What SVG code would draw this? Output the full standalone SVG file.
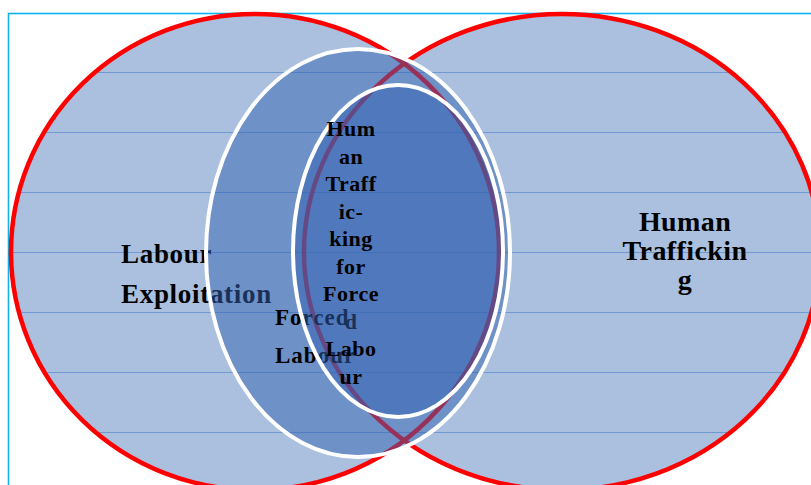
<svg xmlns="http://www.w3.org/2000/svg" width="811" height="485" viewBox="0 0 811 485">
  <style>
    .lbl { font-family: "Liberation Serif", "Times New Roman", serif; font-weight: bold; fill: #000; }
    .red { fill: none; stroke: #ff0000; stroke-width: 4.5; }
    .wht { fill: #3262b2; fill-opacity: 0.5; stroke: #ffffff; stroke-width: 4; }
    .grid { stroke: #7099d3; stroke-width: 1; }
  </style>
  <defs>
    <clipPath id="vennClip">
      <ellipse cx="255" cy="252" rx="244" ry="238"/>
      <ellipse cx="562" cy="252" rx="258" ry="238"/>
    </clipPath>
  </defs>
  <rect x="0" y="0" width="811" height="485" fill="#ffffff"/>
  <rect x="8.5" y="13.5" width="830" height="500" fill="none" stroke="#10b2ec" stroke-width="1.6"/>

  <g id="venn-fills">
    <ellipse cx="255" cy="252" rx="244" ry="238" fill="#aac0de"/>
    <ellipse cx="562" cy="252" rx="258" ry="238" fill="#aac0de"/>
    <g clip-path="url(#vennClip)" class="grid">
      <line x1="0" y1="72.5" x2="811" y2="72.5"/>
      <line x1="0" y1="132.5" x2="811" y2="132.5"/>
      <line x1="0" y1="192.5" x2="811" y2="192.5"/>
      <line x1="0" y1="252.5" x2="811" y2="252.5"/>
      <line x1="0" y1="312.5" x2="811" y2="312.5"/>
      <line x1="0" y1="372.5" x2="811" y2="372.5"/>
      <line x1="0" y1="432.5" x2="811" y2="432.5"/>
    </g>
  </g>

  <g id="connectors"/>

  <g id="labour-exploitation">
    <ellipse class="red" cx="255" cy="252" rx="244" ry="238"/>
    <text class="lbl" x="121" y="263" font-size="27" letter-spacing="0.7">Labour</text>
    <text class="lbl" x="121" y="303" font-size="27" letter-spacing="0.7">Exploitation</text>
  </g>

  <g id="human-trafficking">
    <ellipse class="red" cx="562" cy="252" rx="258" ry="238"/>
    <g text-anchor="middle">
      <text class="lbl" x="685" y="231" font-size="28" letter-spacing="0.4">Human</text>
      <text class="lbl" x="685" y="260" font-size="28" letter-spacing="0.4">Traffickin</text>
      <text class="lbl" x="685" y="289" font-size="28" letter-spacing="0.4">g</text>
    </g>
  </g>

  <g id="forced-labour">
    <ellipse class="wht" cx="358" cy="253" rx="152" ry="204"/>
    <text class="lbl" x="275" y="325" font-size="23" letter-spacing="1">Forced</text>
    <text class="lbl" x="275" y="363" font-size="23" letter-spacing="1">Labour</text>
  </g>

  <g id="human-trafficking-for-forced-labour">
    <ellipse class="wht" cx="398" cy="251" rx="105" ry="166"/>
    <g text-anchor="middle" font-size="22" letter-spacing="0.5">
      <text class="lbl" x="351" y="136">Hum</text>
      <text class="lbl" x="351" y="163.5">an</text>
      <text class="lbl" x="351" y="191">Traff</text>
      <text class="lbl" x="351" y="218.5">ic-</text>
      <text class="lbl" x="351" y="246">king</text>
      <text class="lbl" x="351" y="273.5">for</text>
      <text class="lbl" x="351" y="301">Force</text>
      <text class="lbl" x="351" y="328.5" style="fill:#1c3158">d</text>
      <text class="lbl" x="351" y="356">Labo</text>
      <text class="lbl" x="351" y="383.5">ur</text>
    </g>
  </g>
</svg>
